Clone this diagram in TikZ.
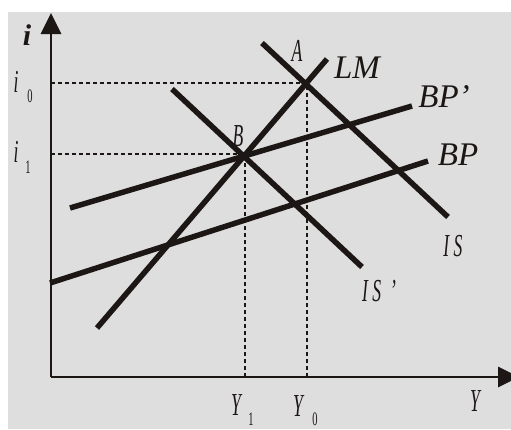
\documentclass[tikz,border=0pt]{standalone}
\usepackage{fontspec}
\setmainfont{Liberation Serif}
\usetikzlibrary{arrows.meta}
\definecolor{bg}{HTML}{DEDEDE}
\definecolor{ink}{HTML}{1C1614}
\newcommand{\cnd}[1]{\scalebox{0.55}[1]{#1}}
\tikzset{
  curve/.style={draw=ink,line width=5.5pt},
  axis/.style={draw=ink,line width=2.8pt,-{Triangle[length=21pt,width=20pt]}},
  guide/.style={draw=ink,line width=2pt,dash pattern=on 4pt off 3pt},
  big/.style={font=\fontsize{33}{33}\selectfont\itshape,text=ink,inner sep=0pt},
  cond/.style={font=\fontsize{32}{32}\selectfont\itshape,text=ink,inner sep=0pt},
  sub/.style={font=\fontsize{19}{19}\selectfont,text=ink,inner sep=0pt},
}
\begin{document}
\begin{tikzpicture}[x=1pt,y=-1pt]
\useasboundingbox (0,0) rectangle (511,429);
\fill[bg] (8,12) rectangle (511,429);
% coordinates
\coordinate (O) at (51,377);
\coordinate (ytop) at (51,13);
\coordinate (xend) at (519,377);
\coordinate (A) at (307,83);
\coordinate (B) at (245,154);
\coordinate (i0) at (51,83);
\coordinate (i1) at (51,154);
\coordinate (Y0) at (307,377);
\coordinate (Y1) at (245,377);
\coordinate (lm1) at (97,328);
\coordinate (lm2) at (327,59);
\coordinate (is1) at (262,43);
\coordinate (is2) at (448,217);
\coordinate (isp1) at (172,89);
\coordinate (isp2) at (362,267);
\coordinate (bpp1) at (70,208);
\coordinate (bpp2) at (412,106);
\coordinate (bp1) at (50,283);
\coordinate (bp2) at (428,161);
% guides
\draw[guide] (i0) -- (A) -- (Y0);
\draw[guide] (i1) -- (B) -- (Y1);
% curves
\draw[curve] (bp1) -- (bp2);
\draw[curve] (bpp1) -- (bpp2);
\draw[curve] (isp1) -- (isp2);
\draw[curve] (is1) -- (is2);
\draw[curve] (lm1) -- (lm2);
% axes
\draw[axis] (O) -- (ytop);
\draw[axis] (O) -- (xend);
% labels
\node[font=\fontsize{30}{30}\selectfont\bfseries\itshape,text=ink,inner sep=0pt] (li) at (27,35) {i};
\node[cond] (li0) at (16,82) {\cnd{i}};
\node[sub] (li0s) at (30,96) {\cnd{0}};
\node[cond] (li1) at (16,152) {\cnd{i}};
\node[sub] (li1s) at (28,167) {\cnd{1}};
\node[cond] (lA) at (297,51) {\cnd{A}};
\node[cond] (lB) at (238,136) {\cnd{B}};
\node[big] (lLM) at (357,68) {LM};
\node[big] (lBPp) at (444,97) {BP\char39};
\node[big] (lBP) at (458,155) {BP};
\node[cond] (lIS) at (453,246) {\cnd{I\hspace{8pt}S}};
\node[cond] (lISp) at (379,291) {\cnd{I\hspace{8pt}S\hspace{16pt}\char39}};
\node[cond] (lY1) at (236,405) {\cnd{Y}};
\node[sub] (lY1s) at (251,419) {\cnd{1}};
\node[cond] (lY0) at (298,406) {\cnd{Y}};
\node[sub] (lY0s) at (315,419) {\cnd{0}};
\node[cond] (lY) at (475,401) {\cnd{Y}};
\end{tikzpicture}
\end{document}
